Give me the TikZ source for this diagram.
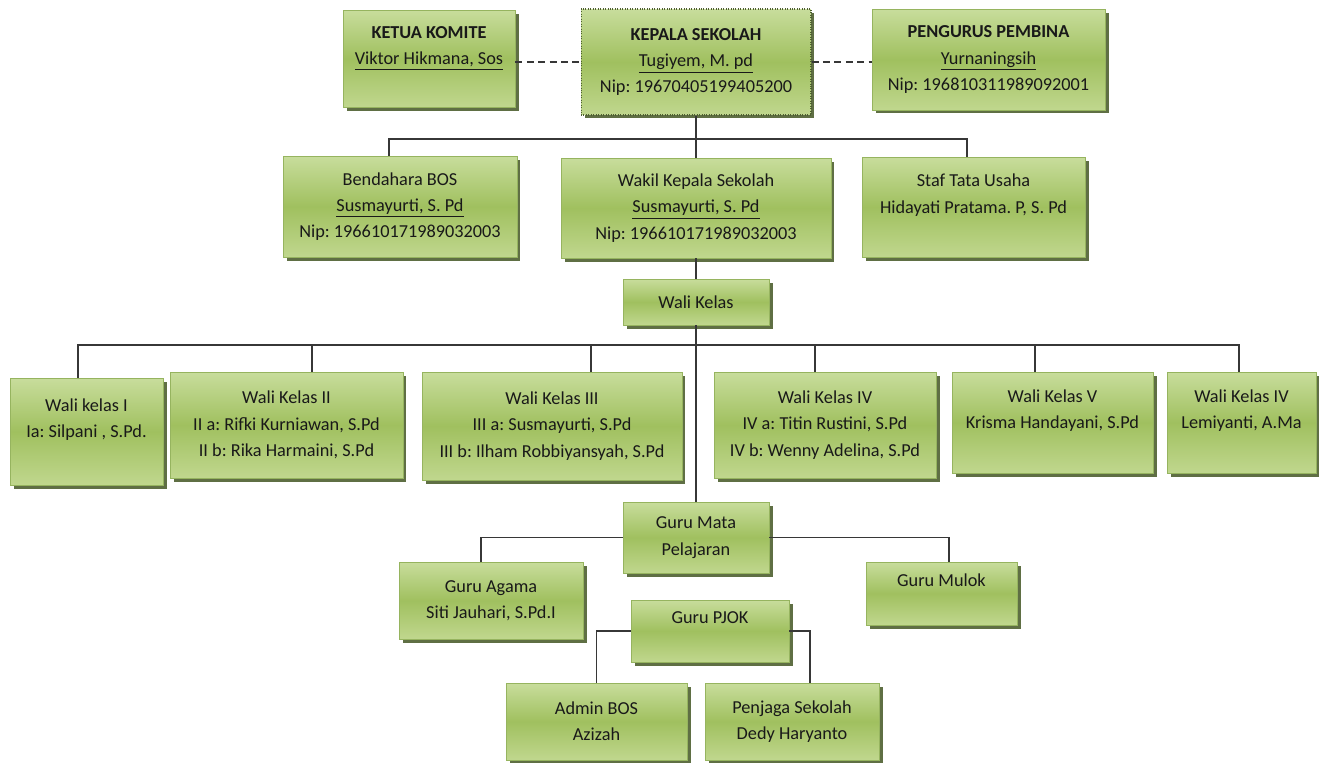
\documentclass[tikz,border=0pt]{standalone}
\usepackage{fontspec}
\setmainfont{Carlito}
\frenchspacing
\usepackage{xcolor}
\definecolor{boxTop}{RGB}{200,221,156}
\definecolor{boxMid}{RGB}{160,192,95}
\definecolor{boxBot}{RGB}{192,215,142}
\definecolor{boxEdge}{RGB}{150,180,95}
\definecolor{boxShade}{RGB}{78,95,48}
\definecolor{lineGray}{RGB}{55,55,55}
\definecolor{textDark}{RGB}{25,25,25}
\usepackage{tikz}
\usetikzlibrary{shadows}
\tikzstyle{orgbox}=[rectangle, draw=boxEdge, line width=0.4pt, top color=boxTop, bottom color=boxBot, middle color=boxMid, drop shadow={shadow xshift=2pt, shadow yshift=-2pt, fill=boxShade, opacity=0.9}, inner sep=0pt, align=center, text=textDark, font=\fontsize{10.4}{15}\selectfont]
\tikzstyle{headbox}=[orgbox, draw=boxShade, densely dotted, line width=0.6pt]
\tikzstyle{link}=[draw=lineGray, line width=0.7pt]
\tikzstyle{dashlink}=[link, dash pattern=on 4pt off 2.5pt]

\begin{document}
\begin{tikzpicture}[x=0.02cm, y=-0.02cm]
    \useasboundingbox (0,0) rectangle (1319,763);

    % --- pimpinan ---
    \node[orgbox, minimum width=3.44cm, minimum height=1.94cm] (ketua) at (429,58.5)
         {\textbf{KETUA KOMITE}\\\underline{Viktor Hikmana, Sos}\\\mbox{}};
    \node[headbox, minimum width=4.6cm, minimum height=2.12cm] (kepala) at (696,62)
         {\textbf{KEPALA SEKOLAH}\\\underline{Tugiyem, M. pd}\\Nip: 19670405199405200};
    \node[orgbox, minimum width=4.66cm, minimum height=2.02cm] (pengurus) at (988.5,59.5)
         {\textbf{PENGURUS PEMBINA}\\\underline{Yurnaningsih}\\Nip: 196810311989092001};

    % --- baris kedua ---
    \node[orgbox, minimum width=4.68cm, minimum height=2.02cm] (bendahara) at (400,206.5)
         {Bendahara BOS\\\underline{Susmayurti, S. Pd}\\Nip: 196610171989032003};
    \node[orgbox, minimum width=5.4cm, minimum height=2.0cm] (wakil) at (696,208)
         {Wakil Kepala Sekolah\\\underline{Susmayurti, S. Pd}\\Nip: 196610171989032003};
    \node[orgbox, minimum width=4.46cm, minimum height=2.0cm] (staf) at (973.5,207)
         {Staf Tata Usaha\\Hidayati Pratama. P, S. Pd\\\mbox{}};
    \node[orgbox, minimum width=2.92cm, minimum height=0.92cm] (walikelas) at (696,302)
         {Wali Kelas};

    % --- wali kelas ---
    \node[orgbox, minimum width=3.06cm, minimum height=2.14cm] (wk1) at (86.5,431.5)
         {Wali kelas I\\Ia: Silpani , S.Pd.\\\mbox{}};
    \node[orgbox, minimum width=4.66cm, minimum height=2.12cm] (wk2) at (286.5,425)
         {Wali Kelas II\\II a: Rifki Kurniawan, S.Pd\\II b: Rika Harmaini, S.Pd};
    \node[orgbox, minimum width=5.2cm, minimum height=2.16cm] (wk3) at (552,426)
         {Wali Kelas III\\III a: Susmayurti, S.Pd\\III b: Ilham Robbiyansyah, S.Pd};
    \node[orgbox, minimum width=4.44cm, minimum height=2.12cm] (wk4) at (825,425)
         {Wali Kelas IV\\IV a: Titin Rustini, S.Pd\\IV b: Wenny Adelina, S.Pd};
    \node[orgbox, minimum width=4.02cm, minimum height=2.02cm] (wk5) at (1052.5,422.5)
         {Wali Kelas V\\Krisma Handayani, S.Pd\\\mbox{}};
    \node[orgbox, minimum width=2.98cm, minimum height=2.02cm] (wk6) at (1241.5,422.5)
         {Wali Kelas IV\\Lemiyanti, A.Ma\\\mbox{}};

    % --- guru ---
    \node[orgbox, minimum width=2.92cm, minimum height=1.42cm] (mapel) at (696,537.5)
         {Guru Mata\\Pelajaran};
    \node[orgbox, minimum width=3.68cm, minimum height=1.54cm] (agama) at (491,600.5)
         {Guru Agama\\Siti Jauhari, S.Pd.I};
    \node[orgbox, minimum width=3.02cm, minimum height=1.26cm] (mulok) at (941.5,593.5)
         {Guru Mulok\\\mbox{}};
    \node[orgbox, minimum width=3.16cm, minimum height=1.24cm] (pjok) at (710,631)
         {Guru PJOK\\\mbox{}};
    \node[orgbox, minimum width=3.62cm, minimum height=1.54cm] (admin) at (596.5,721.5)
         {Admin BOS\\Azizah};
    \node[orgbox, minimum width=3.48cm, minimum height=1.54cm] (penjaga) at (792,721.5)
         {Penjaga Sekolah\\Dedy Haryanto};

    % --- garis ---
    \draw[dashlink] (ketua.east |- kepala.west) -- (kepala.west);
    \draw[dashlink] (kepala.east) -- (pengurus.west |- kepala.east);

    \coordinate (topbus) at (696,139);
    \draw[link] (kepala.south) -- (wakil.north);
    \draw[link] ([xshift=-0.22cm]bendahara.north) |- (topbus) -| ([xshift=-0.13cm]staf.north);
    \draw[link] (wakil.south) -- (walikelas.north);
    \draw[link] (walikelas.south) -- (mapel.north);

    \coordinate (walibus) at (696,345);
    \draw[link] ([xshift=-0.17cm]wk1.north) |- (walibus) -| ([xshift=-0.05cm]wk6.north);
    \foreach \n/\dx in {wk2/0.51, wk3/0.78, wk4/-0.2, wk5/-0.35}
      \draw[link] ([xshift=\dx cm]\n.north) -- ([xshift=\dx cm]\n.north |- walibus);

    \draw[link] (mapel.west) -| ([xshift=-0.2cm]agama.north);
    \draw[link] (mapel.east) -| ([xshift=0.15cm]mulok.north);
    \draw[link] (pjok.west) -| (admin.north);
    \draw[link] (pjok.east) -| ([xshift=0.36cm]penjaga.north);
\end{tikzpicture}
\end{document}
